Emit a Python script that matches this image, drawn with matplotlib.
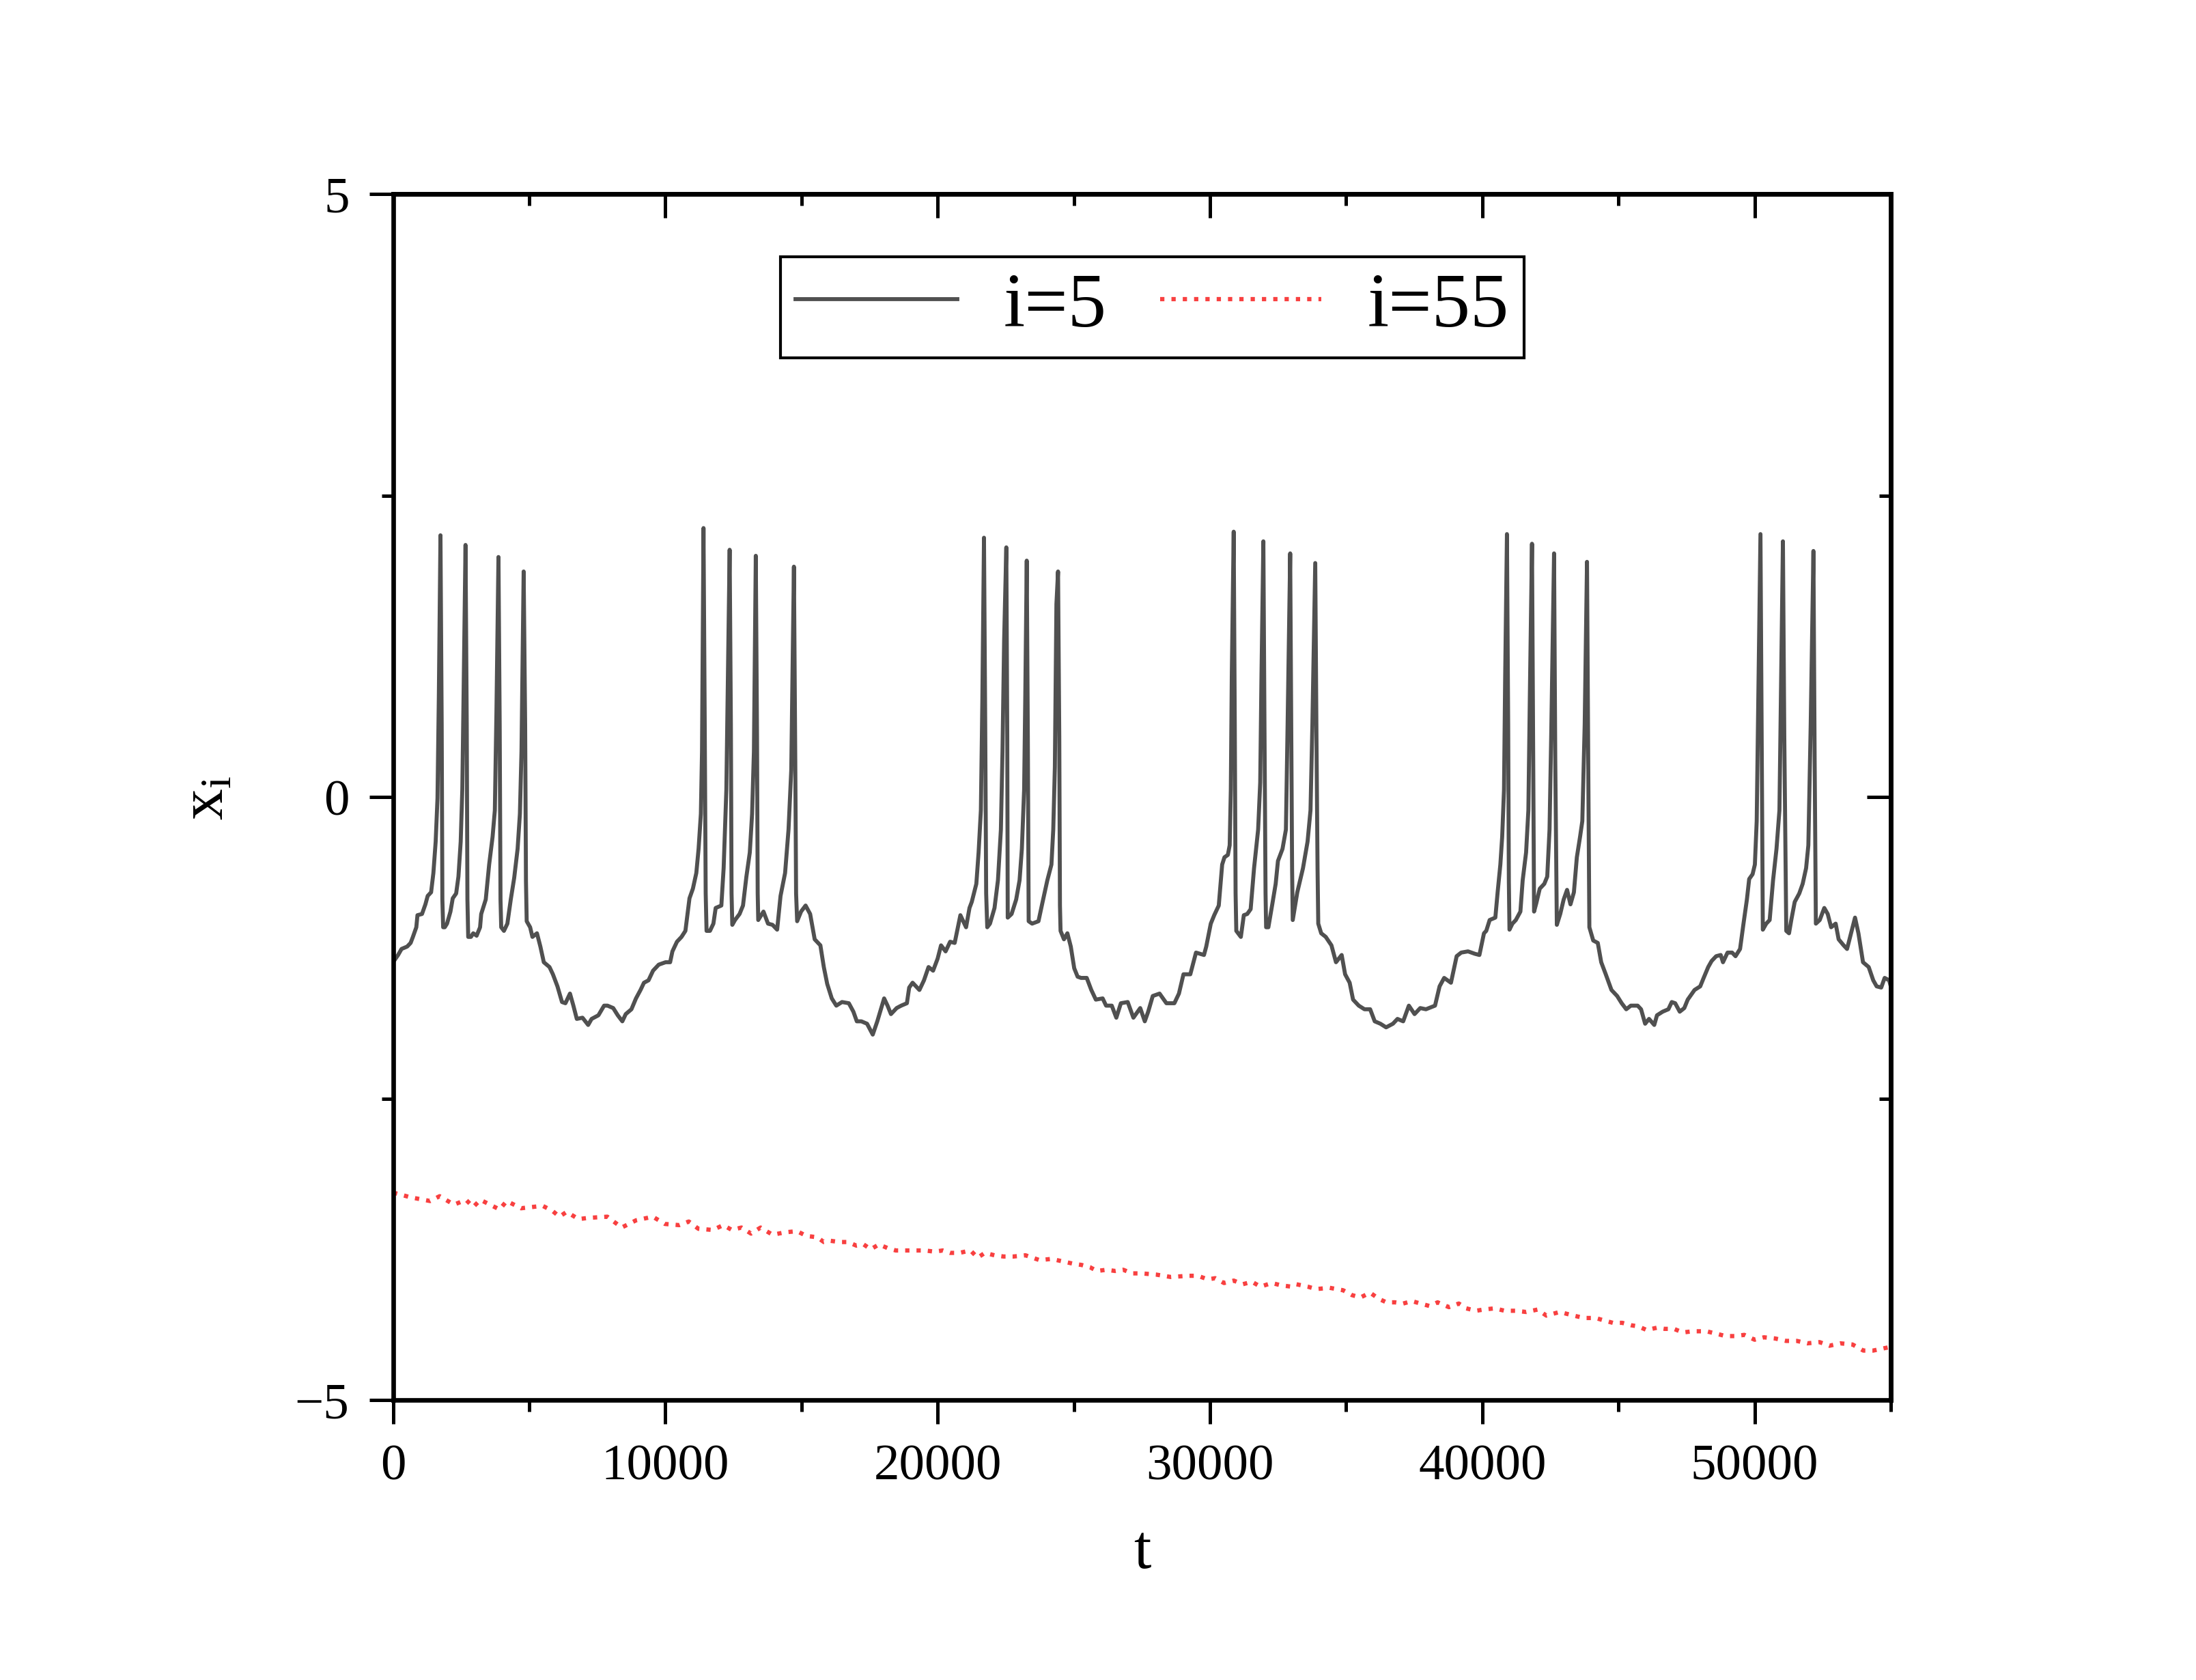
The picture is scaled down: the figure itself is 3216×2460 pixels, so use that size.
import matplotlib
matplotlib.use('Agg')
import matplotlib.pyplot as plt
from matplotlib.ticker import MultipleLocator, NullFormatter

plt.rcParams['font.family'] = ['Liberation Serif', 'DejaVu Serif']
plt.rcParams['mathtext.fontset'] = 'custom'
plt.rcParams['mathtext.rm'] = 'Liberation Serif'
plt.rcParams['mathtext.it'] = 'Liberation Serif'

# neuron i=5
t5 = [0, 184, 310, 518, 644, 728, 853, 895, 1062, 1187, 1271, 1396, 1480, 1564, 1631, 1680, 1740, 1785, 1810, 1839,
      1898, 1981, 2107, 2191, 2316, 2400, 2483, 2542, 2592, 2660, 2705, 2730, 2759, 2859, 2943, 3068, 3194, 3236,
      3403, 3528, 3654, 3737, 3796, 3870, 3915, 3945, 3971, 4071, 4197, 4322, 4448, 4573, 4657, 4716, 4795, 4850,
      4880, 4907, 5033, 5117, 5284, 5409, 5535, 5744, 5869, 6036, 6203, 6329, 6496, 6621, 6747, 6956, 7164, 7290,
      7540, 7749, 7875, 8084, 8251, 8419, 8544, 8753, 8920, 9087, 9213, 9380, 9547, 9756, 10007,
      10174, 10258, 10425, 10592, 10735, 10885, 11010, 11136, 11219, 11303, 11345, 11400, 11445, 11480, 11512,
      11637, 11763, 11847, 12055, 12139, 12239, 12290, 12360, 12405, 12430, 12457, 12557, 12724, 12850, 12975,
      13100, 13184, 13251, 13320, 13365, 13390, 13410, 13602, 13769, 13936, 14104, 14229, 14396, 14522, 14622,
      14720, 14770, 14800, 14839, 14982, 15149, 15316, 15483, 15692, 15818, 15943, 16110, 16277, 16486, 16737,
      16904, 17030, 17197, 17406, 17615, 17782, 18033, 18158, 18284, 18493, 18660, 18869, 18953, 19078, 19329,
      19496, 19664, 19831, 19998,
      20123, 20290, 20457, 20624, 20833, 21042, 21168, 21251, 21419, 21502, 21586, 21640, 21700, 21745, 21780,
      21820, 21920, 22087, 22213, 22321, 22380, 22440, 22520, 22555, 22572, 22714, 22882, 23007, 23091, 23174,
      23215, 23270, 23310, 23341, 23467, 23701, 23843, 24027, 24177, 24244, 24303, 24360, 24420, 24465, 24490,
      24512, 24637, 24763, 24888, 25014, 25139, 25264, 25473, 25641, 25808, 26058, 26184, 26393, 26560, 26727,
      26978, 27187, 27438, 27605, 27730, 27898, 28148, 28399, 28692, 28859, 29026, 29277, 29486, 29779,
      29862, 30029, 30155, 30322, 30447, 30531, 30656, 30723, 30765, 30800, 30870, 30910, 30940, 30966, 31133,
      31242, 31367, 31493, 31618, 31768, 31844, 31890, 31960, 32000, 32040, 32061, 32144, 32287, 32412, 32496,
      32663, 32788, 32850, 32945, 32985, 33015, 33039, 33206, 33415, 33583, 33691, 33760, 33865, 33910, 33950,
      33976, 34084, 34251, 34460, 34627, 34836, 34962, 35129, 35254, 35463, 35673, 35882, 36049, 36258, 36467,
      36718, 36885, 37094, 37303, 37512, 37721, 37930, 38264, 38431, 38599, 38849, 39058, 39225, 39476, 39727,
      39894, 40061,
      40145, 40270, 40479, 40563, 40663, 40730, 40797, 40840, 40905, 40950, 40975, 40998, 41106, 41232, 41399,
      41483, 41608, 41692, 41750, 41825, 41865, 41901, 41984, 42110, 42277, 42385, 42469, 42530, 42635, 42680,
      42737, 42862, 42988, 43113, 43238, 43364, 43472, 43590, 43673, 43760, 43845, 43890, 43932, 44074, 44241,
      44367, 44534, 44743, 44952, 45119, 45286, 45454, 45705, 45830, 45980, 46123, 46315, 46415, 46624, 46833,
      46958, 47084, 47251, 47418, 47544, 47794, 48003, 48129,
      48296, 48421, 48588, 48756, 48839, 49006, 49174, 49299, 49466, 49592, 49717, 49801, 49926, 50010, 50077,
      50140, 50215, 50260, 50302, 50427, 50553, 50678, 50804, 50912, 50970, 51040, 51090, 51163, 51264, 51347,
      51473, 51640, 51765, 51891, 51974, 52060, 52160, 52205, 52250, 52392, 52559, 52685, 52810, 52977, 53086,
      53270, 53395, 53563, 53688, 53813, 53981, 54190, 54357, 54482, 54650, 54775, 54942, 55000]
x5 = [-1.37, -1.31, -1.26, -1.24, -1.21, -1.16, -1.08, -0.98, -0.97, -0.89, -0.82, -0.79, -0.63, -0.37, -0.01, 0.83, 2.17, 0.6, -0.85, -1.08,
      -1.08, -1.05, -0.95, -0.84, -0.80, -0.66, -0.37, 0.06, 0.90, 2.09, 0.6, -0.85, -1.16, -1.16, -1.13, -1.15, -1.08, -0.97,
      -0.85, -0.56, -0.33, -0.11, 0.71, 1.99, 0.6, -0.85, -1.08, -1.11, -1.05, -0.85, -0.67, -0.43, -0.14, 0.38, 1.87, 0.6,
      -0.7, -1.03, -1.08, -1.16, -1.13, -1.24, -1.37, -1.41, -1.47, -1.57, -1.70, -1.71, -1.63, -1.73, -1.84, -1.83, -1.89, -1.84,
      -1.81, -1.73, -1.73, -1.75, -1.81, -1.86, -1.80, -1.76, -1.67, -1.60, -1.54, -1.52, -1.44, -1.39, -1.37,
      -1.37, -1.28, -1.20, -1.16, -1.11, -0.84, -0.76, -0.63, -0.43, -0.14, 0.38, 2.23, 0.6, -0.8, -1.11,
      -1.11, -1.05, -0.92, -0.90, -0.59, 0.06, 0.9, 2.05, 0.6, -0.8, -1.06, -1.02, -0.97, -0.90, -0.66,
      -0.46, -0.14, 0.38, 2.00, 0.5, -0.8, -1.02, -0.95, -1.05, -1.06, -1.10, -0.82, -0.63, -0.27, 0.22,
      1.91, 0.3, -0.8, -1.03, -0.95, -0.90, -0.97, -1.18, -1.23, -1.41, -1.55, -1.67, -1.73, -1.70, -1.71,
      -1.78, -1.86, -1.86, -1.88, -1.97, -1.86, -1.67, -1.73, -1.80, -1.75, -1.73, -1.71, -1.58, -1.54, -1.60,
      -1.52, -1.41, -1.44, -1.34,
      -1.23, -1.28, -1.20, -1.21, -0.98, -1.08, -0.92, -0.87, -0.72, -0.46, -0.11, 0.8, 2.15, 0.6, -0.8,
      -1.08, -1.05, -0.92, -0.69, -0.27, 0.38, 1.3, 2.07, 0.5, -1.00, -0.97, -0.85, -0.69, -0.43, 0.06,
      0.8, 1.96, 0.5, -1.03, -1.05, -1.03, -0.88, -0.69, -0.56, -0.27, 0.25, 1.6, 1.87, 0.5, -0.9,
      -1.11, -1.18, -1.13, -1.24, -1.42, -1.49, -1.50, -1.50, -1.60, -1.68, -1.67, -1.73, -1.73, -1.83, -1.71,
      -1.70, -1.83, -1.75, -1.86, -1.78, -1.65, -1.63, -1.71, -1.71, -1.63, -1.47, -1.47, -1.29, -1.31,
      -1.24, -1.05, -0.98, -0.90, -0.56, -0.50, -0.48, -0.40, 0.06, 1.0, 2.20, 0.6, -0.8, -1.11, -1.16,
      -0.98, -0.97, -0.93, -0.59, -0.27, 0.12, 1.0, 2.12, 0.6, -0.8, -1.08, -1.08, -0.89, -0.72, -0.53,
      -0.43, -0.27, 0.6, 2.02, 0.5, -0.6, -1.02, -0.79, -0.59, -0.37, -0.11, 0.6, 1.94, 0.5, -0.6,
      -1.05, -1.13, -1.16, -1.23, -1.37, -1.31, -1.47, -1.54, -1.68, -1.73, -1.76, -1.76, -1.86, -1.88, -1.91,
      -1.88, -1.84, -1.86, -1.73, -1.80, -1.75, -1.76, -1.73, -1.57, -1.50, -1.54, -1.32, -1.29, -1.28, -1.30,
      -1.31, -1.13,
      -1.11, -1.02, -1.00, -0.79, -0.56, -0.33, 0.06, 1.0, 2.18, 0.6, -0.7, -1.10, -1.05, -1.02, -0.95,
      -0.69, -0.46, -0.11, 0.9, 2.10, 0.5, -0.95, -0.88, -0.76, -0.72, -0.66, -0.27, 0.5, 2.02, 0.3,
      -1.06, -0.97, -0.85, -0.77, -0.89, -0.79, -0.50, -0.33, -0.20, 0.6, 1.95, 0.3, -1.08, -1.19, -1.21,
      -1.37, -1.47, -1.60, -1.65, -1.71, -1.76, -1.73, -1.73, -1.76, -1.88, -1.84, -1.89, -1.81, -1.78, -1.76,
      -1.70, -1.71, -1.78, -1.75, -1.68, -1.60, -1.57, -1.50,
      -1.41, -1.36, -1.32, -1.31, -1.37, -1.29, -1.29, -1.32, -1.26, -1.05, -0.85, -0.68, -0.64, -0.56, -0.20,
      0.9, 2.18, 0.5, -1.10, -1.05, -1.02, -0.69, -0.43, -0.11, 0.9, 2.12, 0.5, -1.11, -1.13, -1.02,
      -0.87, -0.80, -0.72, -0.59, -0.40, 0.6, 2.04, 0.3, -1.05, -1.02, -0.92, -0.97, -1.08, -1.05, -1.18,
      -1.23, -1.26, -1.11, -1.00, -1.13, -1.37, -1.41, -1.52, -1.57, -1.58, -1.50, -1.52, -1.57]

# neuron i=55
t55 = [0, 655, 1359, 1710, 2237, 2679, 2942, 3206, 3910, 4174, 4700, 5493, 5844, 6110, 6373, 6812, 7163, 7868,
       8395, 8923, 9538, 9979, 10508, 10860, 11211, 11739, 12126, 12442, 12794, 13145, 13497, 13937, 14378, 14834,
       15185, 15573, 15819, 16066, 16401, 16700, 17016, 17280, 17543, 17843, 18158, 18459, 18898, 19269, 19533,
       19884, 20185, 20448, 20799, 21205, 21468, 21732, 22083, 22418, 22788, 23224, 23739, 24178, 24580, 24980,
       25281, 25601, 25849, 26200, 26517, 26816, 27133, 27479, 28021, 28564, 29194, 29557, 29919, 30190, 30516,
       30874, 31200, 31545, 31851, 32268, 32629, 32991, 33171, 33588, 33896, 34400, 34887, 35213, 35521, 35882,
       36191, 36479, 36788, 37094, 37420, 37726, 38052, 38360, 38774, 39138, 39409, 39770, 40041, 40455, 40818,
       41215, 41613, 42029, 42353, 42842, 43349, 43745, 44161, 44467, 44793, 45137, 45463, 45734, 46040, 46421,
       46692, 47036, 47362, 47723, 48230, 48591, 48935, 49258, 49621, 50000, 50344, 50758, 51157, 51553, 51934,
       52386, 52747, 53146, 53597, 53993, 54355, 54771, 55000]
x55 = [-3.28, -3.32, -3.35, -3.31, -3.38, -3.34, -3.40, -3.34, -3.42, -3.35, -3.41, -3.39, -3.43, -3.48, -3.44, -3.50, -3.49, -3.48,
       -3.57, -3.51, -3.48, -3.54, -3.55, -3.52, -3.58, -3.59, -3.55, -3.59, -3.57, -3.62, -3.57, -3.63, -3.61, -3.60,
       -3.64, -3.65, -3.69, -3.68, -3.69, -3.69, -3.72, -3.71, -3.75, -3.71, -3.74, -3.76, -3.76, -3.76, -3.76,
       -3.77, -3.76, -3.78, -3.78, -3.76, -3.82, -3.78, -3.80, -3.81, -3.81, -3.80, -3.84, -3.83, -3.85, -3.87,
       -3.88, -3.90, -3.93, -3.92, -3.93, -3.92, -3.95, -3.95, -3.96, -3.98, -3.97, -3.97, -4.00, -3.99, -4.03,
       -4.01, -4.04, -4.02, -4.06, -4.03, -4.05, -4.06, -4.04, -4.06, -4.08, -4.07, -4.09, -4.13, -4.15, -4.11,
       -4.16, -4.19, -4.19, -4.20, -4.18, -4.20, -4.22, -4.19, -4.23, -4.20, -4.24, -4.26, -4.25, -4.24, -4.26,
       -4.26, -4.27, -4.25, -4.30, -4.27, -4.30, -4.32, -4.32, -4.34, -4.36, -4.36, -4.38, -4.39, -4.42, -4.40,
       -4.41, -4.41, -4.44, -4.43, -4.43, -4.45, -4.47, -4.47, -4.46, -4.50, -4.48, -4.49, -4.51, -4.51, -4.53,
       -4.52, -4.55, -4.53, -4.54, -4.59, -4.59, -4.57, -4.56]

fig = plt.figure(figsize=(10.72, 8.203), dpi=300)
ax = fig.add_axes([0.179, 0.1666, 0.682, 0.7176])

ax.plot(t5, x5, color='#505050', lw=1.4, label='i=5')
ax.plot(t55, x55, color='#f84040', lw=1.5, ls=':', label='i=55')

ax.set_xlim(0, 55000)
ax.set_ylim(-5, 5)
ax.set_xticks([0, 10000, 20000, 30000, 40000, 50000])
ax.xaxis.set_minor_locator(MultipleLocator(5000))
ax.set_yticks([-5, 0, 5])
ax.yaxis.set_minor_locator(MultipleLocator(2.5))
ax.tick_params(which='major', direction='out', length=8.4, width=1.2, labelsize=18, pad=7)
ax.tick_params(which='minor', direction='out', length=4, width=1.2)
for s in ax.spines.values():
    s.set_linewidth(1.6)

# inward ticks on top and right
secx = ax.secondary_xaxis('top')
secx.set_xticks([0, 10000, 20000, 30000, 40000, 50000])
secx.xaxis.set_minor_locator(MultipleLocator(5000))
secx.xaxis.set_major_formatter(NullFormatter())
secx.tick_params(which='major', direction='in', length=8.4, width=1.2)
secx.tick_params(which='minor', direction='in', length=4, width=1.2)
secx.spines['top'].set_linewidth(1.6)
secy = ax.secondary_yaxis('right')
secy.set_yticks([-5, 0, 5])
secy.yaxis.set_minor_locator(MultipleLocator(2.5))
secy.yaxis.set_major_formatter(NullFormatter())
secy.tick_params(which='major', direction='in', length=8.4, width=1.2)
secy.tick_params(which='minor', direction='in', length=4, width=1.2)
secy.spines['right'].set_linewidth(1.6)

ax.set_xlabel('t', fontsize=22, labelpad=12)
ax.set_ylabel(r'$\mathrm{x_i}$', fontsize=22, labelpad=21)

leg = ax.legend(loc='upper center', bbox_to_anchor=(0.507, 0.948), ncol=2, fontsize=27,
                fancybox=False, edgecolor='black', framealpha=1, handlelength=2.1,
                handletextpad=0.6, columnspacing=0.7, borderpad=0.2, borderaxespad=0)
leg.get_frame().set_linewidth(1.0)

fig.savefig('out.png', dpi=300)
